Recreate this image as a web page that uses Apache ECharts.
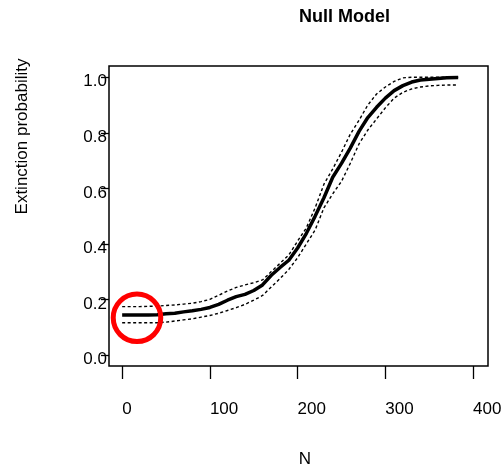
<!DOCTYPE html>
<html>
<head>
<meta charset="utf-8">
<script src="https://cdn.jsdelivr.net/npm/echarts@6/dist/echarts.min.js"></script>
<style>
html,body{margin:0;padding:0;background:#fff;}
#chart{width:504px;height:470px;}
</style>
</head>
<body>
<div id="chart"></div>
<script>
// ---- data ----
const chartTitle = "Null Model";
const xAxisTitle = "N";
const yAxisTitle = "Extinction probability";
const xTicks = [0, 100, 200, 300, 400];
const yTicks = [0, 0.2, 0.4, 0.6, 0.8, 1.0];
const N = [0,10,20,30,40,50,60,70,80,90,100,110,120,130,140,150,160,170,180,190,200,210,220,230,240,250,260,270,280,290,300,310,320,330,340,350,360,370,383];
const meanProb = [0.144,0.144,0.144,0.144,0.145,0.148,0.150,0.155,0.159,0.164,0.171,0.182,0.197,0.210,0.218,0.232,0.252,0.287,0.315,0.341,0.385,0.438,0.500,0.566,0.640,0.690,0.745,0.805,0.855,0.892,0.925,0.952,0.970,0.983,0.990,0.993,0.996,0.998,0.999];
const upperProb = [0.174,0.174,0.174,0.175,0.176,0.178,0.180,0.183,0.186,0.192,0.200,0.215,0.230,0.243,0.252,0.260,0.270,0.300,0.330,0.360,0.410,0.458,0.530,0.615,0.670,0.730,0.795,0.845,0.900,0.940,0.965,0.985,0.998,1.0,1.0,1.0,1.0,1.0,1.0];
const lowerProb = [0.116,0.116,0.116,0.116,0.116,0.118,0.122,0.126,0.130,0.136,0.142,0.150,0.160,0.170,0.182,0.197,0.214,0.245,0.275,0.308,0.350,0.400,0.450,0.530,0.580,0.625,0.690,0.760,0.810,0.850,0.890,0.925,0.946,0.958,0.965,0.969,0.971,0.972,0.972];
const highlight = [[16.9, 0.1335]];

const pairs = (xs, ys) => xs.map((x, i) => [x, ys[i]]);
const FONT = "'Liberation Sans', Arial, sans-serif";

const chart = echarts.init(document.getElementById('chart'), null, {renderer: 'canvas'});
chart.setOption({
  animation: false,
  backgroundColor: '#ffffff',
  title: {
    text: chartTitle,
    left: 299, top: 8,
    padding: 0,
    textStyle: {fontFamily: FONT, fontSize: 18, fontWeight: 'bold', color: '#000'}
  },
  grid: {
    left: 109, top: 66, right: 16, bottom: 104,
    containLabel: false,
    outerBoundsMode: 'none',
    show: true, borderColor: '#000', borderWidth: 1.5, backgroundColor: 'transparent'
  },
  xAxis: {
    type: 'value', min: -15, max: 417,
    splitLine: {show: false},
    axisLine: {show: false, onZero: false},
    axisTick: {show: true, customValues: xTicks, length: 13, lineStyle: {color: '#000', width: 1.3}},
    axisLabel: {show: true, customValues: xTicks, align: 'left', margin: 35,
      fontFamily: FONT, fontSize: 17, color: '#000'}
  },
  yAxis: {
    type: 'value', min: -0.04, max: 1.0407,
    splitLine: {show: false},
    axisLine: {show: false, onZero: false},
    axisTick: {show: true, customValues: yTicks, length: 8, lineStyle: {color: '#000', width: 1.3}},
    axisLabel: {show: true, customValues: yTicks, margin: 2,
      verticalAlign: 'top', lineHeight: 9,
      formatter: v => v.toFixed(1),
      fontFamily: FONT, fontSize: 17, color: '#000'}
  },
  graphic: [
    {type: 'text', x: 22, y: 136.5, rotation: Math.PI / 2,
      style: {text: yAxisTitle, fontFamily: FONT, fontSize: 17, fill: '#000', align: 'center', verticalAlign: 'middle'}},
    {type: 'text', x: 305, y: 459,
      style: {text: xAxisTitle, fontFamily: FONT, fontSize: 17, fill: '#000', align: 'center', verticalAlign: 'middle'}}
  ],
  series: [
    {type: 'line', data: pairs(N, upperProb), showSymbol: false, symbol: 'none',
      lineStyle: {color: '#000', width: 1.4, type: [3, 2.5]}, z: 2},
    {type: 'line', data: pairs(N, lowerProb), showSymbol: false, symbol: 'none',
      lineStyle: {color: '#000', width: 1.4, type: [3, 2.5]}, z: 2},
    {type: 'line', data: pairs(N, meanProb), showSymbol: false, symbol: 'none',
      lineStyle: {color: '#000', width: 3.5, cap: 'butt', join: 'round'}, z: 3},
    {type: 'scatter', data: highlight, symbol: 'circle', symbolSize: 47.5,
      itemStyle: {color: 'rgba(0,0,0,0)', borderColor: '#ff0000', borderWidth: 5, opacity: 1}, z: 4}
  ]
});
</script>
</body>
</html>
